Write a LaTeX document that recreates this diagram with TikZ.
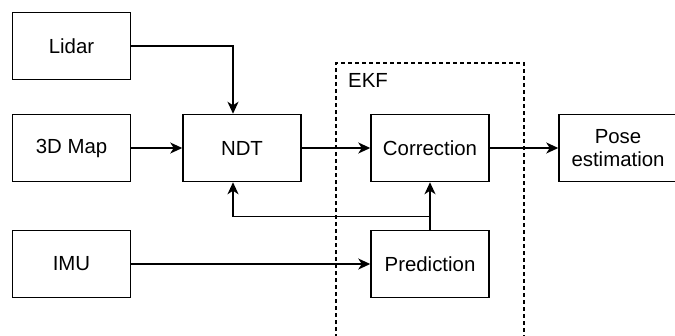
\documentclass[tikz,border=0pt]{standalone}
\usepackage{fontspec}
\setmainfont{Liberation Sans}
\usetikzlibrary{arrows.meta}
\usetikzlibrary{positioning}

\tikzset{
  block/.style={draw, line width=1.5pt, minimum width=118pt, minimum height=67pt,
    align=center, inner sep=0pt, font=\fontsize{20.4}{23}\selectfont},
  flow/.style={line width=1.5pt, -{Stealth[length=12pt,width=11pt,inset=3.5pt]}},
  ekfbox/.style={line width=1.5pt, dash pattern=on 4pt off 3pt}
}

\begin{document}
\begin{tikzpicture}[x=1pt, y=-1pt]
  \clip (0,0) rectangle (675,335);
  % Sensor inputs
  \node[block] (lidar) at (71.5, 46) {Lidar};
  \node[block] (map)   at (71.5,148) {3D Map};
  \node[block] (imu)   at (71.5,264) {IMU};
  % Scan matching
  \node[block] (ndt)   at (242,148) {NDT};
  % EKF
  \draw[ekfbox] (336,345) -- (336,63) -- (524,63) -- (524,345);
  \node[anchor=west, inner sep=0pt, font=\fontsize{20.4}{23}\selectfont] (ekf) at (348,80) {EKF};
  \node[block] (corr)  at (430,148) {Correction};
  \node[block] (pred)  at (430,264) {Prediction};
  % Output
  \node[block] (pose)  at (618,148) {Pose\\estimation};
  \coordinate (split) at (430,216.5);
  % Connections
  \draw[flow] (lidar.east) -| ([xshift=-9pt]ndt.north);
  \draw[flow] (map) -- (ndt);
  \draw[flow] (ndt.east) -- (corr.west);
  \draw[flow] (corr) -- (pose);
  \draw[flow] (pred) -- (corr);
  \draw[flow] (split) -| ([xshift=-9pt]ndt.south);
  \draw[flow] (imu) -- (pred);
\end{tikzpicture}
\end{document}
